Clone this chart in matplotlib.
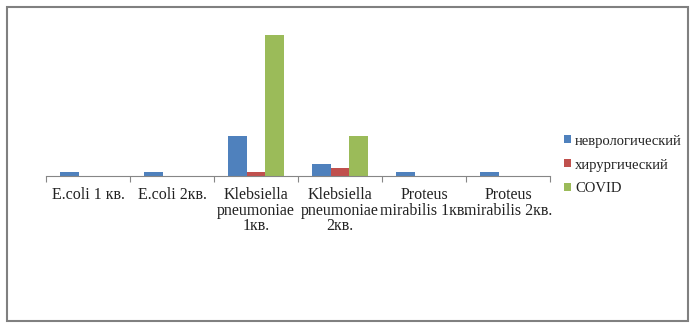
import numpy as np
import matplotlib.pyplot as plt
from matplotlib.patches import Rectangle

#data
categories = ['E.coli 1 кв.', 'E.coli 2кв.', 'Klebsiella\npneumoniae\n1кв.',
              'Klebsiella\npneumoniae\n2кв.', 'Proteus\nmirabilis 1кв.', 'Proteus\nmirabilis 2кв.']
series_names = ['неврологический', 'хирургический', 'COVID']
neuro = [1, 1, 10, 3, 1, 1]
surg = [0, 0, 1, 2, 0, 0]
covid = [0, 0, 35, 10, 0, 0]
colors = ['#4f81bd', '#c0504d', '#9bbb59']

plt.rcParams['font.family'] = ['Liberation Serif', 'DejaVu Serif']

fig = plt.figure(figsize=(7, 3.27), dpi=100)
# outer frame
fig.patches.append(Rectangle((7/700, 1-321/327), 681/700, 314/327, transform=fig.transFigure,
                             fill=False, edgecolor='#808080', linewidth=1.5))

W, H = 700, 327
left, right, top, base = 46, 550, 35, 176
ax = fig.add_axes([left/W, 1-base/H, (right-left)/W, (base-top)/H])

x = np.arange(len(categories))
w = 0.226
for i, (vals, name) in enumerate(zip([neuro, surg, covid], series_names)):
    ax.bar(x + (i-1)*w, vals, width=w, color=colors[i], label=name)

ax.set_xlim(-0.5, len(categories)-0.5)
ax.set_ylim(0, 35)
for s in ['top', 'right', 'left']:
    ax.spines[s].set_visible(False)
ax.spines['bottom'].set_color('#868686')
ax.set_yticks([])
ax.set_xticks(np.arange(-0.5, len(categories)))
ax.set_xticklabels([])
ax.tick_params(axis='x', length=4, color='#868686', direction='out')
for xi, lab in zip(x, categories):
    ax.text(xi, -0.08, lab, transform=ax.get_xaxis_transform(), ha='center', va='top',
            fontsize=11.5, color='#222222', linespacing=0.95)

ax.legend(loc='center left', bbox_to_anchor=(557/W, 1-165/H), bbox_transform=fig.transFigure,
          frameon=False, fontsize=10.5, handlelength=0.45, handleheight=0.45, handletextpad=0.3,
          labelspacing=0.75, borderpad=0, labelcolor='#222222')

plt.savefig('out.png', dpi=100)
